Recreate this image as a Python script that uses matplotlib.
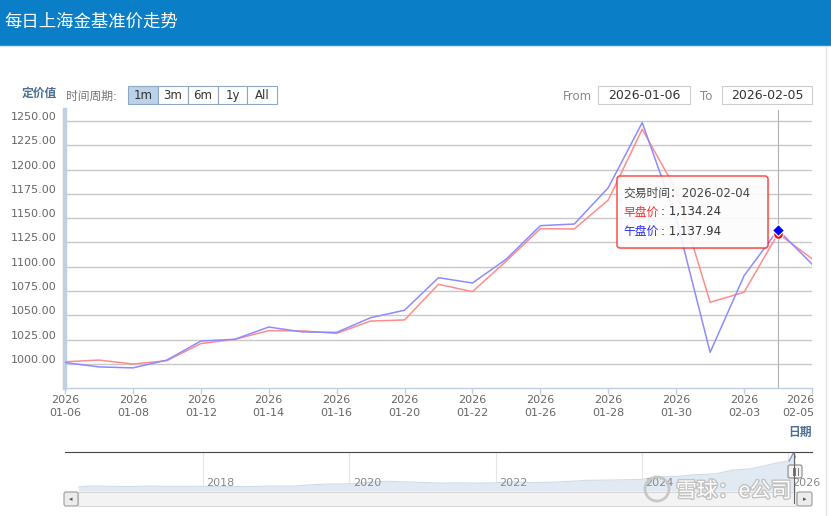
import matplotlib
matplotlib.use('Agg')
import matplotlib.pyplot as plt
from matplotlib.patches import Rectangle, FancyBboxPatch, Circle
from matplotlib.transforms import ScaledTranslation
import matplotlib.patheffects as pe
import pandas as pd

plt.rcParams['font.family'] = ['DejaVu Sans', 'Noto Sans CJK SC']

# daily benchmark prices (trading days only)
dates = ['2026-01-06', '2026-01-07', '2026-01-08', '2026-01-09', '2026-01-12',
         '2026-01-13', '2026-01-14', '2026-01-15', '2026-01-16', '2026-01-19',
         '2026-01-20', '2026-01-21', '2026-01-22', '2026-01-23', '2026-01-26',
         '2026-01-27', '2026-01-28', '2026-01-29', '2026-01-30', '2026-02-02',
         '2026-02-03', '2026-02-04', '2026-02-05']
morning = [1002.3, 1004.0, 1000.0, 1003.4, 1021.0, 1025.4, 1034.3, 1034.0,
           1031.5, 1044.2, 1045.3, 1082.0, 1074.4, 1106.0, 1139.2, 1138.9,
           1168.7, 1241.5, 1179.0, 1063.5, 1073.8, 1134.24, 1108.3]
afternoon = [1001.5, 997.0, 996.0, 1004.0, 1023.6, 1025.4, 1038.0, 1033.0,
             1032.5, 1047.6, 1055.3, 1088.8, 1083.3, 1108.0, 1142.3, 1144.0,
             1181.4, 1248.3, 1150.0, 1012.0, 1090.8, 1137.94, 1102.8]
hover = 21
yticks = [1000, 1025, 1050, 1075, 1100, 1125, 1150, 1175, 1200, 1225, 1250]
xtick_idx = [0, 2, 4, 6, 8, 10, 12, 14, 16, 18, 20, 22]
periods = ['1m', '3m', '6m', '1y', 'All']

# navigator: long history (rough readings)
nav_dates = ['2016-04-19', '2016-07-01', '2016-10-01', '2017-01-01', '2017-04-01',
             '2017-07-01', '2017-10-01', '2018-01-01', '2018-04-01', '2018-07-01',
             '2018-10-01', '2019-01-01', '2019-04-01', '2019-07-01', '2019-10-01',
             '2020-01-01', '2020-04-01', '2020-07-01', '2020-10-01', '2021-01-01',
             '2021-04-01', '2021-07-01', '2021-10-01', '2022-01-01', '2022-04-01',
             '2022-07-01', '2022-10-01', '2023-01-01', '2023-04-01', '2023-07-01',
             '2023-10-01', '2024-01-01', '2024-04-01', '2024-07-01', '2024-10-01',
             '2025-01-01', '2025-04-01', '2025-07-01', '2025-10-01', '2025-12-01',
             '2026-01-06', '2026-01-29', '2026-02-05']
nav_vals = [258, 285, 272, 265, 280, 273, 275, 272, 270, 263, 272, 285, 283,
            320, 340, 345, 385, 420, 400, 385, 365, 375, 365, 375, 400, 380,
            390, 415, 445, 450, 460, 475, 545, 560, 610, 630, 740, 775, 900,
            970, 1002, 1248, 1105]
nav_years = [2018, 2020, 2022, 2024, 2026]

W, H = 831, 516
fig = plt.figure(figsize=(W / 100, H / 100), dpi=100)


def box(l, t, r, b):
    return [l / W, 1 - b / H, (r - l) / W, (b - t) / H]


# ---- main chart
ax = fig.add_axes(box(65, 110, 812, 388))
x = list(range(len(dates)))
ax.plot(x, morning, color='#ff8c8c', lw=1.1, zorder=3)
ax.plot(x, afternoon, color='#8c8cff', lw=1.1, zorder=3)
ax.axvline(hover, color='#b0b0b0', lw=0.8, zorder=2)
ax.plot(hover, morning[hover], 'o', ms=7, color='#ff0000', mec='white', mew=0.8, zorder=5)
ax.plot(hover, afternoon[hover], 'D', ms=6, color='#0000ff', mec='white', mew=0.8, zorder=6)

ax.set_xlim(0, len(dates) - 1)
ax.set_ylim(975.3, 1261.3)
ax.set_yticks(yticks)
ax.set_yticklabels(['%.2f' % v for v in yticks])
ax.yaxis.grid(True, color='#c8c8c8', lw=1.0)
ax.set_axisbelow(True)
ax.tick_params(axis='y', length=0, pad=6, labelsize=8, labelcolor='#666666')
for lab in ax.get_yticklabels():
    lab.set_transform(lab.get_transform() + ScaledTranslation(0, 0.05, fig.dpi_scale_trans))
ax.set_xticks(xtick_idx)
ax.set_xticklabels(['2026\n' + dates[i][5:] for i in xtick_idx], linespacing=1.35)
ax.tick_params(axis='x', length=4, width=1, color='#c0d0e0', pad=1,
               labelsize=8, labelcolor='#666666')
ax.get_xticklabels()[-1].set_horizontalalignment('right')
ax.get_xticklabels()[-1].set_transform(
    ax.get_xticklabels()[-1].get_transform() + ScaledTranslation(0.02, 0, fig.dpi_scale_trans))
for s in ['top', 'right']:
    ax.spines[s].set_visible(False)
ax.spines['left'].set_color('#c0d0e0')
ax.spines['left'].set_linewidth(3.2)
ax.spines['bottom'].set_color('#c0d0e0')
ax.spines['bottom'].set_linewidth(1)

# ---- navigator
nav = fig.add_axes(box(65, 452, 812, 491))
nd = pd.to_datetime(pd.Series(nav_dates))
ny = nd.dt.year + (nd.dt.dayofyear - 1) / 365.25
nav.fill_between(ny, 140, nav_vals, color='#e1e9f3', lw=0)
nav.plot(ny, nav_vals, color='#cfdbea', lw=0.8)
nav.plot(ny[-3:], nav_vals[-3:], color='#7d9ccb', lw=1)
nav.set_xlim(2016.113, 2026.325)
nav.set_ylim(140, 1255)
for yr in nav_years:
    nav.axvline(yr, color='#e6e6e6', lw=0.8, zorder=0)
    nav.text(yr, 0.2, str(yr), transform=nav.get_xaxis_transform() +
             ScaledTranslation(0.035, 0, fig.dpi_scale_trans),
             ha='left', va='center', fontsize=8, color='#888888')
nav.set_xticks([])
nav.set_yticks([])
nav.patch.set_visible(False)
for s in ['left', 'right', 'bottom']:
    nav.spines[s].set_visible(False)
nav.spines['top'].set_color('#444444')

# ---- page chrome (pixel coordinates)
ov = fig.add_axes([0, 0, 1, 1], zorder=10)
ov.set_xlim(0, W)
ov.set_ylim(H, 0)
ov.axis('off')

ov.add_patch(Rectangle((0, 0), W, 45, color='#0a7fc8'))
ov.plot([0, W], [46, 46], color='#d2e5f3', lw=1)
ov.text(4, 22, '每日上海金基准价走势', color='white', fontsize=12.5,
        va='center', ha='left', family=['Noto Sans CJK SC'])
ov.plot([826, 826], [47, H], color='#e2e2e2', lw=1)

ov.text(22, 93, '定价值', color='#4d6f91', fontsize=8.5, fontweight='bold', va='center')
ov.text(66, 96, '时间周期:', color='#777777', fontsize=8.5, va='center')
edges = [128, 158, 188, 218, 247, 277]
for i, p in enumerate(periods):
    fc = '#bcd1ea' if i == 0 else 'white'
    ov.add_patch(Rectangle((edges[i], 86), edges[i + 1] - edges[i], 18,
                           fc=fc, ec='#8ea6c2', lw=0.8))
    ov.text((edges[i] + edges[i + 1]) / 2, 95.5, p, ha='center', va='center',
            fontsize=8.5, color='#333333')

ov.text(563, 96, 'From', color='#888888', fontsize=8.5, va='center')
ov.add_patch(Rectangle((598, 86), 92, 18, fc='white', ec='#cccccc', lw=0.8))
ov.text(644, 95.5, dates[0], ha='center', va='center', fontsize=9, color='#333333')
ov.text(700, 96, 'To', color='#888888', fontsize=8.5, va='center')
ov.add_patch(Rectangle((722, 86), 90, 18, fc='white', ec='#cccccc', lw=0.8))
ov.text(767, 95.5, dates[-1], ha='center', va='center', fontsize=9, color='#333333')

ov.text(812, 432, '日期', ha='right', va='center', fontsize=8.5,
        fontweight='bold', color='#4d6f91')

# tooltip
ov.add_patch(FancyBboxPatch((618.5, 177.5), 151, 72, boxstyle='round,pad=0,rounding_size=3',
                            fc='black', ec='none', alpha=0.08))
ov.add_patch(FancyBboxPatch((617, 176), 151, 72, boxstyle='round,pad=0,rounding_size=3',
                            fc='white', ec='#ff2020', lw=1, alpha=0.88))
ov.text(623, 193, '交易时间：' + dates[hover], fontsize=8.5, color='#444444', va='center')
ov.text(623, 212, '早盘价', fontsize=8.5, color='#ff2a2a', va='center')
ov.text(661, 212, ': {:,.2f}'.format(morning[hover]), fontsize=8.5, color='#333333', va='center')
ov.text(623, 231, '午盘价', fontsize=8.5, color='#2a2aff', va='center')
ov.text(661, 231, ': {:,.2f}'.format(afternoon[hover]), fontsize=8.5, color='#333333', va='center')

# scrollbar
ov.add_patch(Rectangle((78, 492), 718, 14, fc='#f3f3f3', ec='#d8d8d8', lw=0.8))
ov.add_patch(FancyBboxPatch((64, 492), 14, 14, boxstyle='round,pad=0,rounding_size=2',
                            fc='#ececec', ec='#9a9a9a', lw=0.8))
ov.text(71, 499, '◂', ha='center', va='center', fontsize=5, color='#555555')
ov.add_patch(FancyBboxPatch((797, 492), 15, 14, boxstyle='round,pad=0,rounding_size=2',
                            fc='#ececec', ec='#9a9a9a', lw=0.8))
ov.text(804.5, 499, '▸', ha='center', va='center', fontsize=5, color='#555555')

# navigator handle
ov.plot([794, 794], [452, 503], color='#666666', lw=0.8)
ov.add_patch(FancyBboxPatch((788, 465), 14, 13, boxstyle='round,pad=0,rounding_size=2',
                            fc='#f4f4f4', ec='#888888', lw=0.8))
for hx in [792.5, 795, 797.5]:
    ov.plot([hx, hx], [468, 475], color='#777777', lw=0.7)

# watermark
ov.add_patch(Circle((657, 489), 12, fill=False, ec='#c4c4c4', lw=2.0, alpha=0.9))
ov.text(676, 491, '雪球：e公司', fontsize=15, color='white', va='center', ha='left',
        family=['Noto Sans CJK SC'],
        path_effects=[pe.withStroke(linewidth=2, foreground='#c2c2c2')])

fig.savefig('out.png', dpi=100)
